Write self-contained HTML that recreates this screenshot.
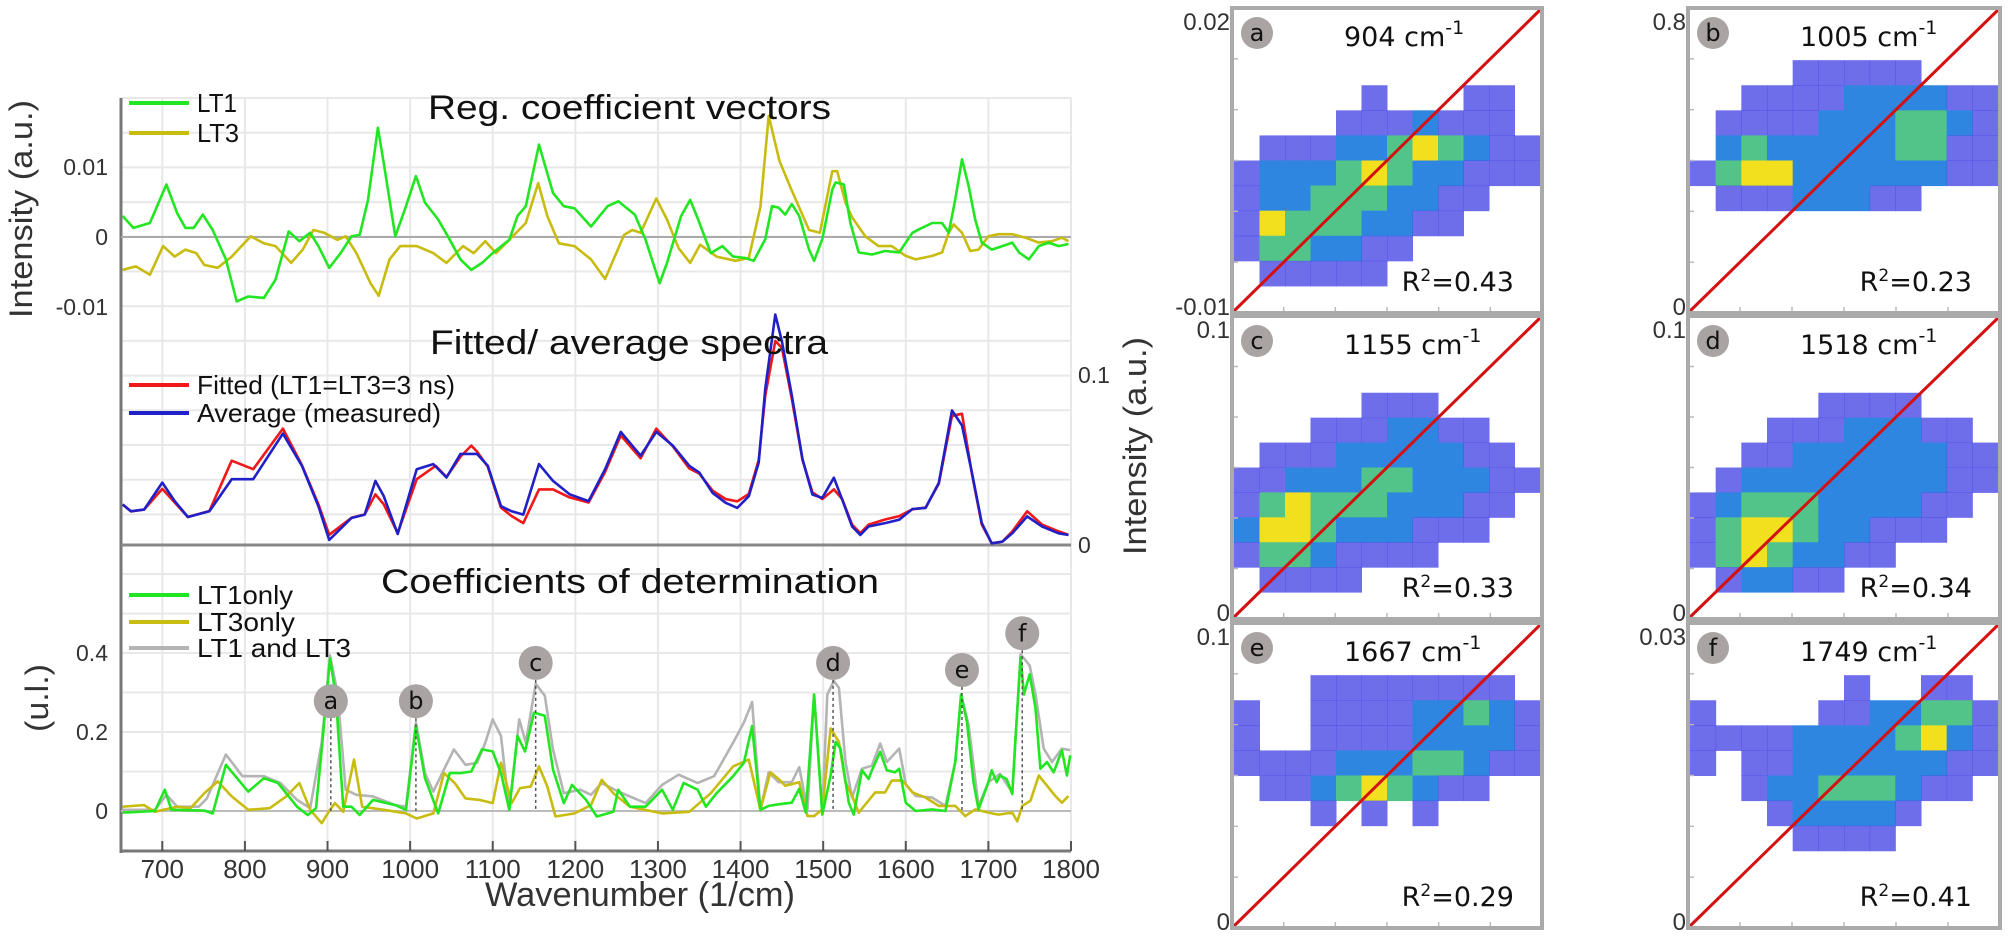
<!DOCTYPE html>
<html><head><meta charset="utf-8">
<style>
html,body{margin:0;padding:0;background:#fff;}
svg{display:block;font-family:"Liberation Sans",sans-serif;}
</style></head>
<body>
<svg id="fig" width="2008" height="937" viewBox="0 0 2008 937" xmlns="http://www.w3.org/2000/svg">
<g id="grid"></g>
<g id="axes"></g>
<g id="series"></g>
<g id="labels"></g>
<g id="scatter"></g>
</svg>
<script>
// ---------- data ----------
const xTicks = [700,800,900,1000,1100,1200,1300,1400,1500,1600,1700,1800];
const topTicks = [0.01,0,-0.01];
const topTickLabels = ["0.01","0","-0.01"];
const botTicks = [0.4,0.2,0];
const botTickLabels = ["0.4","0.2","0"];
const midTicks = [0.1,0];
const midTickLabels = ["0.1","0"];

const lt1 = [[652,.003],[665,.0013],[685,.002],[705,.0075],[718,.0034],[728,.0013],[738,.0013],[749,.0032],[761,.001],[777,-.0032],[790,-.0092],[804,-.0085],[823,-.0087],[837,-.0061],[853,.0008],[866,-.0006],[879,.0006],[889,-.0013],[902,-.0044],[916,-.0023],[929,.0001],[939,.0003],[949,.0053],[961,.0156],[968,.0106],[982,.0001],[995,.0044],[1007,.0087],[1018,.0049],[1034,.0025],[1048,-.0004],[1061,-.0032],[1074,-.0047],[1087,-.0037],[1100,-.0023],[1120,-.0004],[1130,.003],[1140,.0044],[1156,.0132],[1166,.0091],[1173,.0063],[1186,.0044],[1199,.0041],[1219,.0015],[1239,.0044],[1252,.0051],[1272,.0032],[1285,-.0004],[1302,-.0066],[1311,-.0037],[1328,.003],[1339,.0053],[1348,.0027],[1364,-.0023],[1378,-.0013],[1391,-.0028],[1406,-.003],[1416,-.0034],[1430,-.0003],[1438,.0044],[1446,.0042],[1454,.0032],[1462,.0047],[1471,.003],[1483,-.0018],[1489,-.0034],[1499,-.0003],[1511,.0068],[1515,.0078],[1525,.0075],[1533,.002],[1543,-.0022],[1559,-.0025],[1575,-.002],[1592,-.0022],[1608,.0006],[1616,.0011],[1632,.002],[1644,.002],[1652,.0006],[1660,.0054],[1668,.0111],[1676,.0073],[1684,.0025],[1692,-.0008],[1704,-.0018],[1717,-.0013],[1729,-.0008],[1737,-.0022],[1749,-.0032],[1761,-.0013],[1773,-.0008],[1785,-.0013],[1797,-.001]];
const lt3 = [[652,-.0047],[668,-.0042],[685,-.0054],[701,-.0013],[715,-.0028],[728,-.0018],[741,-.0023],[751,-.004],[767,-.0044],[784,-.0028],[807,.0001],[823,-.0009],[837,-.0013],[856,-.0037],[870,-.0018],[883,.001],[896,.0006],[912,-.0004],[922,.0001],[935,-.0023],[952,-.0066],[962,-.0084],[975,-.0032],[988,-.0013],[1008,-.0013],[1028,-.0023],[1044,-.0037],[1064,-.0013],[1077,-.0023],[1091,-.0006],[1104,-.0023],[1120,-.0004],[1140,.002],[1155,.0077],[1166,.003],[1180,-.0009],[1199,-.0013],[1219,-.0032],[1236,-.006],[1259,.0003],[1269,.001],[1279,.0006],[1298,.0055],[1311,.0025],[1325,-.0016],[1339,-.0037],[1351,-.0011],[1371,-.0028],[1394,-.0034],[1410,-.003],[1424,.0043],[1434,.0173],[1447,.0109],[1460,.0072],[1483,.001],[1496,.0006],[1511,.0094],[1517,.0094],[1527,.0049],[1535,.0028],[1551,.0001],[1567,-.0013],[1583,-.0013],[1600,-.0027],[1612,-.0032],[1632,-.0027],[1644,-.0022],[1652,.0006],[1658,.0018],[1668,.0006],[1678,-.002],[1688,-.0018],[1700,.0001],[1712,.0004],[1729,.0004],[1745,-.0001],[1761,-.0008],[1777,-.0006],[1789,-.0001],[1797,-.0006]];
const avgSpec = [[652,.0238],[662,.0198],[678,.0208],[700,.0367],[715,.0258],[731,.0165],[757,.0198],[784,.0387],[810,.0387],[846,.0655],[869,.0466],[889,.0228],[902,.003],[929,.0159],[945,.0179],[958,.0377],[968,.0288],[985,.0065],[1008,.0446],[1028,.0476],[1044,.0397],[1061,.0536],[1081,.0536],[1094,.0466],[1110,.0228],[1123,.0198],[1137,.0179],[1156,.0476],[1173,.0377],[1193,.0298],[1216,.0258],[1236,.0446],[1255,.0665],[1279,.0526],[1298,.0665],[1318,.0585],[1338,.0466],[1350,.0426],[1366,.0307],[1382,.0248],[1396,.0218],[1410,.0287],[1422,.0485],[1430,.0921],[1442,.1356],[1450,.1198],[1462,.0881],[1475,.0505],[1487,.0297],[1499,.0277],[1513,.0396],[1523,.0267],[1535,.0109],[1545,.0059],[1555,.0109],[1575,.0129],[1592,.0149],[1608,.0212],[1624,.0218],[1640,.0366],[1656,.0792],[1668,.0703],[1680,.0426],[1692,.0129],[1704,.001],[1717,.002],[1729,.0069],[1747,.0168],[1765,.0109],[1785,.0069],[1797,.0059]];
const fitSpec = [[652,.0238],[662,.0198],[678,.0208],[700,.033],[715,.025],[731,.0165],[757,.02],[784,.0496],[810,.0446],[846,.0685],[869,.047],[889,.024],[902,.006],[929,.016],[945,.018],[958,.0298],[968,.024],[985,.007],[1008,.0387],[1031,.0466],[1044,.04],[1061,.052],[1074,.0585],[1081,.055],[1094,.046],[1110,.022],[1123,.017],[1137,.0129],[1156,.0327],[1173,.0327],[1193,.028],[1216,.025],[1236,.043],[1255,.0645],[1279,.051],[1298,.0685],[1318,.058],[1338,.045],[1350,.042],[1366,.032],[1382,.027],[1396,.0257],[1410,.03],[1422,.05],[1430,.088],[1442,.12],[1450,.116],[1462,.086],[1475,.05],[1487,.031],[1499,.027],[1513,.0327],[1523,.027],[1535,.012],[1545,.007],[1555,.012],[1575,.015],[1592,.017],[1608,.021],[1624,.022],[1640,.036],[1656,.076],[1668,.0772],[1680,.042],[1692,.012],[1704,.001],[1717,.002],[1729,.008],[1747,.0198],[1765,.012],[1785,.008],[1797,.006]];
const r2lt1 = [[652,-.004],[691,0],[703,.054],[711,.003],[751,.001],[761,-.006],[777,.117],[804,.049],[823,.083],[840,.071],[863,.011],[876,-.01],[886,.007],[893,.156],[903,.386],[910,.292],[919,.011],[929,.011],[939,-.01],[955,.028],[982,.015],[995,.003],[1007,.215],[1018,.083],[1034,-.006],[1048,.096],[1061,.096],[1074,.1],[1087,.156],[1100,.151],[1110,.096],[1120,.003],[1130,.19],[1139,.151],[1150,.249],[1163,.241],[1173,.105],[1186,.02],[1196,.066],[1213,.028],[1226,-.014],[1246,-.002],[1252,.054],[1266,.011],[1285,.011],[1305,.054],[1318,.003],[1331,.071],[1348,.054],[1358,.011],[1371,.045],[1391,.088],[1404,.122],[1414,.215],[1424,.003],[1434,.013],[1446,.017],[1462,.021],[1471,.056],[1479,-.004],[1489,.295],[1499,-.009],[1509,.09],[1515,.175],[1521,.158],[1531,.021],[1537,-.009],[1547,.103],[1555,.081],[1559,.103],[1569,.15],[1577,.103],[1587,.098],[1592,.107],[1600,.021],[1612,0],[1632,.004],[1648,0],[1660,.124],[1667,.295],[1674,.226],[1682,.073],[1688,.004],[1700,.073],[1704,.103],[1710,.073],[1714,.09],[1722,.081],[1729,.043],[1733,.192],[1739,.389],[1743,.295],[1750,.346],[1757,.261],[1763,.107],[1771,.124],[1779,.098],[1789,.154],[1795,.09],[1799,.141]];
const r2lt3 = [[652,.011],[678,.015],[691,-.002],[718,.011],[734,.007],[751,.045],[767,.075],[784,.037],[804,.003],[830,.007],[850,.037],[866,.071],[879,.003],[893,-.031],[903,.003],[909,.02],[919,-.002],[932,.13],[942,.011],[968,.003],[995,-.006],[1008,-.019],[1028,-.006],[1041,.096],[1054,.071],[1067,.032],[1084,.028],[1100,.02],[1110,.122],[1123,.02],[1133,.058],[1146,.062],[1156,.113],[1166,.062],[1176,-.014],[1199,-.006],[1219,.015],[1232,.079],[1246,.045],[1266,.011],[1305,-.006],[1338,-.002],[1364,.045],[1391,.113],[1410,.13],[1424,.003],[1436,.098],[1446,.081],[1454,.064],[1471,.073],[1481,-.013],[1489,-.013],[1499,.004],[1509,.209],[1519,.175],[1527,.073],[1535,.038],[1543,-.004],[1563,.047],[1575,.047],[1583,.077],[1596,.077],[1608,.047],[1624,.034],[1640,.013],[1660,.013],[1672,-.013],[1684,.004],[1700,-.004],[1712,-.009],[1729,-.004],[1735,-.026],[1741,.013],[1751,.026],[1761,.09],[1771,.064],[1781,.038],[1789,.021],[1797,.038]];
const r2both = [[652,.003],[691,.003],[705,.041],[718,.011],[744,.011],[754,.032],[777,.143],[797,.088],[823,.088],[843,.071],[863,.028],[879,.007],[893,.173],[903,.394],[912,.3],[922,.054],[935,.041],[955,.037],[982,.015],[995,.011],[1007,.224],[1018,.096],[1028,.049],[1041,.105],[1053,.156],[1067,.117],[1081,.122],[1091,.173],[1100,.232],[1110,.19],[1120,.003],[1132,.232],[1140,.173],[1152,.322],[1163,.292],[1173,.156],[1186,.045],[1206,.054],[1219,.041],[1232,.071],[1252,.049],[1285,.02],[1305,.066],[1325,.092],[1348,.071],[1368,.088],[1391,.173],[1404,.224],[1414,.276],[1424,.003],[1434,.098],[1446,.073],[1462,.073],[1471,.111],[1481,.004],[1489,.295],[1499,-.004],[1505,.295],[1513,.329],[1519,.312],[1527,.124],[1535,.034],[1547,.107],[1559,.115],[1569,.171],[1577,.124],[1592,.158],[1600,.068],[1612,.038],[1632,.034],[1648,.013],[1660,.124],[1667,.295],[1676,.218],[1688,.013],[1700,.073],[1714,.094],[1729,.047],[1739,.397],[1750,.368],[1757,.295],[1767,.158],[1777,.124],[1789,.158],[1799,.154]];
const markerLabels = ["a","b","c","d","e","f"];
const markerWaves = [904,1007,1152,1512,1668,1741];
const markerLevels = [0.278,0.278,0.375,0.375,0.357,0.450];

// scatter panels
const panelLabels = ["a","b","c","d","e","f"];
const panelWaves = ["904","1005","1155","1518","1667","1749"];
const panelR2 = ["0.43","0.23","0.33","0.34","0.29","0.41"];
const panelYMax = ["0.02","0.8","0.1","0.1","0.1","0.03"];
const panelYMin = ["-0.01","0","0","0","0","0"];
const densA = ["000000000000","000000000000","000000000000","000001000110","000011121110","011122343211","122234322111","122333221100","143332211000","133221100000","011111000000","000000000000"];
const densB = ["000000000000","000000000000","000011111000","001111222211","011112223321","023222223311","134422222211","011122211000","000000000000","000000000000","000000000000","000000000000"];
const densC = ["000000000000","000000000000","000000000000","000001110000","000111221100","011122222110","112223322211","134333222110","244322211100","133211110000","011110000000","000000000000"];
const densD = ["000000000000","000000000000","000000000000","000001111000","000111222110","001122222211","012222222211","123332222110","134432211100","134322110000","012211000000","000000000000"];
const densE = ["000000000000","000000000000","000111111110","100111122321","100111122221","111122233211","011234321100","000101010000","000000000000","000000000000","000000000000","000000000000"];
const densF = ["000000000000","000000000000","000000100110","100001122331","111122223421","101122222211","001223332110","000122221000","000011110000","000000000000","000000000000","000000000000"];

// ---------- scales ----------
const NS = "http://www.w3.org/2000/svg";
const L = 121, R = 1071;
const X = w => L + (w - 650) * (R - L) / 1150;
const YT = v => 237 - v * 7000;
const YM = v => 545 - v * 1700;
const YB = v => 811 - v * 395;
function mk(tag, attrs, parent) {
  const e = document.createElementNS(NS, tag);
  for (const k in attrs) e.setAttribute(k, attrs[k]);
  parent.appendChild(e);
  return e;
}
const gGrid = document.getElementById('grid');
const gAxes = document.getElementById('axes');
const gSer = document.getElementById('series');
const gLab = document.getElementById('labels');
const gSc = document.getElementById('scatter');

for (let k = 0; k <= 12; k++) {
  const y = 98 + k * 34.7;
  const l = mk('line', {x1: L, x2: R, y1: y, y2: y, stroke: '#e8e8e8', 'stroke-width': 2}, gGrid);
  
  
}
for (let k = 1; k <= 6; k++) {
  const y = YB(k * 0.1);
  const l = mk('line', {x1: L, x2: R, y1: y, y2: y, stroke: '#e8e8e8', 'stroke-width': 2}, gGrid);
  
  
}
xTicks.forEach(t => {
  const l = mk('line', {x1: X(t), x2: X(t), y1: 98, y2: 851, stroke: '#e8e8e8', 'stroke-width': 2}, gGrid);
  
  
});

[[L, 98, L, 853, '#777', 3], [L, 851, R, 851, '#777', 3], [L, 545, R, 545, '#888', 3], [L, YT(0), R, YT(0), '#aaa', 2], [L, YB(0), R, YB(0), '#bbb', 2]].forEach(a => {
  const l = mk('line', {x1: a[0], y1: a[1], x2: a[2], y2: a[3], stroke: a[4], 'stroke-width': a[5]}, gAxes);
  
  
});
xTicks.forEach(t => {
  const l = mk('line', {x1: X(t), x2: X(t), y1: 841, y2: 851, stroke: '#555', 'stroke-width': 2}, gAxes);
  
  
  const tx = mk('text', {x: X(t), y: 878, 'font-size': 26, fill: '#333', 'text-anchor': 'middle'}, gAxes);
  tx.textContent = t;
  
  
});
topTicks.forEach((t, i) => {
  const tx = mk('text', {x: 108, y: YT(t) + 8, 'font-size': 23, fill: '#333', 'text-anchor': 'end'}, gAxes);
  tx.textContent = topTickLabels[i];
  
  
});
botTicks.forEach((t, i) => {
  const tx = mk('text', {x: 108, y: YB(t) + 8, 'font-size': 23, fill: '#333', 'text-anchor': 'end'}, gAxes);
  tx.textContent = botTickLabels[i];
  
  
});
midTicks.forEach((t, i) => {
  const tx = mk('text', {x: 1078, y: YM(t) + 8, 'font-size': 23, fill: '#333'}, gAxes);
  tx.textContent = midTickLabels[i];
  
  
});

function line(data, ys, color, name, w) {
  const p = mk('polyline', {points: data.map(d => X(d[0]).toFixed(1) + ',' + ys(d[1]).toFixed(1)).join(' '), fill: 'none', stroke: color, 'stroke-width': w || 2.6, 'stroke-linejoin': 'round'}, gSer);
  
  
}
line(lt3, YT, '#c8bc10', 'lt3-coefficient-line');
line(lt1, YT, '#22e622', 'lt1-coefficient-line');
line(fitSpec, YM, '#f01818', 'fitted-spectrum-line');
line(avgSpec, YM, '#2020c8', 'average-spectrum-line');
line(r2both, YB, '#b4b4b4', 'r2-lt1-and-lt3-line');
line(r2lt3, YB, '#c8bc10', 'r2-lt3only-line');
line(r2lt1, YB, '#22e622', 'r2-lt1only-line');

markerLabels.forEach((m, i) => {
  const cx = X(markerWaves[i]), cy = YB(markerLevels[i]);
  const d = mk('line', {x1: cx, x2: cx, y1: cy + 17, y2: YB(0), stroke: '#555', 'stroke-width': 1.5, 'stroke-dasharray': '3,3'}, gLab);
  
  
  const c = mk('circle', {cx: cx, cy: cy, r: 17, fill: '#aaa3a3'}, gLab);
  
  
  const t = mk('text', {x: cx, y: cy + 8, 'font-size': 24, 'text-anchor': 'middle', fill: '#111', 'font-family': 'DejaVu Sans, sans-serif'}, gLab);
  t.textContent = m;
  
  
});

function txt(s, x, y, size, name, opts) {
  const a = Object.assign({x: x, y: y, 'font-size': size, fill: '#111'}, opts || {});
  const t = mk('text', a, gLab);
  t.textContent = s;
  
  
  return t;
}
const LA = 'spacingAndGlyphs';
txt('Reg. coefficient vectors', 428, 119, 34, 'top-panel-title', {textLength: 403, lengthAdjust: LA});
txt('Fitted/ average spectra', 430, 354, 34, 'middle-panel-title', {textLength: 398, lengthAdjust: LA});
txt('Coefficients of determination', 381, 593, 34, 'bottom-panel-title', {textLength: 498, lengthAdjust: LA});
txt('Wavenumber (1/cm)', 485, 906, 34, 'x-axis-title', {textLength: 310, lengthAdjust: LA, fill: '#333'});
txt('Intensity (a.u.)', 0, 0, 32, 'y-axis-title', {transform: 'translate(32,318) rotate(-90)', textLength: 218, lengthAdjust: LA, fill: '#333'});
txt('(u.l.)', 0, 0, 32, 'bottom-y-axis-title', {transform: 'translate(48,732) rotate(-90)', textLength: 68, lengthAdjust: LA, fill: '#333'});
function leg(color, label, y, name, tl) {
  const l = mk('line', {x1: 129, x2: 189, y1: y, y2: y, stroke: color, 'stroke-width': 4}, gLab);
  
  
  txt(label, 197, y + 9, 26, name + '-label', {textLength: tl, lengthAdjust: LA});
}
leg('#22e622', 'LT1', 103, 'legend-lt1', 40);
leg('#c8bc10', 'LT3', 133, 'legend-lt3', 42);
leg('#f01818', 'Fitted (LT1=LT3=3 ns)', 385, 'legend-fitted', 258);
leg('#2020c8', 'Average  (measured)', 413, 'legend-average', 244);
leg('#22e622', 'LT1only', 595, 'legend-lt1only', 96);
leg('#c8bc10', 'LT3only', 622, 'legend-lt3only', 98);
leg('#b4b4b4', 'LT1 and LT3', 648, 'legend-lt1-and-lt3', 154);

const dens = [densA, densB, densC, densD, densE, densF];
const cols = [[1232, 1542], [1688, 2000]];
const rows = [[8, 313], [316, 619], [623, 928]];
const levelColors = ['none', '#4a4ae6', '#2e86e0', '#52c48a', '#f2e01e'];
const levelOpacity = [0, 0.8, 1, 1, 1];
txt('Intensity (a.u.)', 0, 0, 32, 'scatter-y-axis-title', {transform: 'translate(1146,555) rotate(-90)', textLength: 218, lengthAdjust: LA, fill: '#333'});
panelLabels.forEach((lab, i) => {
  const [x0, x1] = cols[i % 2], [y0, y1] = rows[Math.floor(i / 2)];
  const g = mk('g', {}, gSc);
  
  
  const d = dens[i], nr = d.length, nc = d[0].length;
  const cw = (x1 - x0 - 4) / nc, ch = (y1 - y0 - 4) / nr;
  d.forEach((row, r) => {
    for (let c = 0; c < nc; c++) {
      const lv = +row[c];
      if (!lv) continue;
      const cell = mk('rect', {x: x0 + 2 + c * cw, y: y0 + 2 + r * ch, width: cw + 0.5, height: ch + 0.5, fill: levelColors[lv], 'fill-opacity': levelOpacity[lv]}, g);
      
      
    }
  });
  for (let k = 1; k < 6; k++) {
    const ty = y0 + k * (y1 - y0) / 6, tx = x0 + k * (x1 - x0) / 6;
    mk('line', {x1: x0, x2: x0 + 6, y1: ty, y2: ty, stroke: '#bbb', 'stroke-width': 1.5}, g);
    mk('line', {x1: tx, x2: tx, y1: y1, y2: y1 - 6, stroke: '#bbb', 'stroke-width': 1.5}, g);
  }
  const diag = mk('line', {x1: x0, y1: y1, x2: x1, y2: y0, stroke: '#d41010', 'stroke-width': 3}, g);
  
  
  const box = mk('rect', {x: x0, y: y0, width: x1 - x0, height: y1 - y0, fill: 'none', stroke: '#aaa', 'stroke-width': 4}, g);
  
  
  const circ = mk('circle', {cx: x0 + 25, cy: y0 + 25, r: 16, fill: '#aaa3a3'}, g);
  
  
  const bt = mk('text', {x: x0 + 25, y: y0 + 33, 'font-size': 24, 'text-anchor': 'middle', fill: '#111', 'font-family': 'DejaVu Sans, sans-serif'}, g);
  bt.textContent = lab;
  
  
  const tt = mk('text', {x: x0 + 112, y: y0 + 38, 'font-size': 27, fill: '#111', 'font-family': 'DejaVu Sans, sans-serif'}, g);
  
  
  tt.appendChild(document.createTextNode(panelWaves[i] + ' cm'));
  const sup = mk('tspan', {dy: -12, 'font-size': 19}, tt);
  sup.textContent = '-1';
  const rt = mk('text', {x: x1 - 28, y: y1 - 22, 'font-size': 27, fill: '#111', 'text-anchor': 'end', 'font-family': 'DejaVu Sans, sans-serif'}, g);
  
  
  rt.appendChild(document.createTextNode('R'));
  const s2 = mk('tspan', {dy: -10, 'font-size': 17}, rt);
  s2.textContent = '2';
  const s3 = mk('tspan', {dy: 10}, rt);
  s3.textContent = '=' + panelR2[i];
  const ymax = mk('text', {x: x0 - 2, y: y0 + 22, 'font-size': 24, fill: '#333', 'text-anchor': 'end'}, g);
  ymax.textContent = panelYMax[i];
  
  
  const ymin = mk('text', {x: x0 - 2, y: y1 + 2, 'font-size': 24, fill: '#333', 'text-anchor': 'end'}, g);
  ymin.textContent = panelYMin[i];
  
  
});
</script>
</body></html>
